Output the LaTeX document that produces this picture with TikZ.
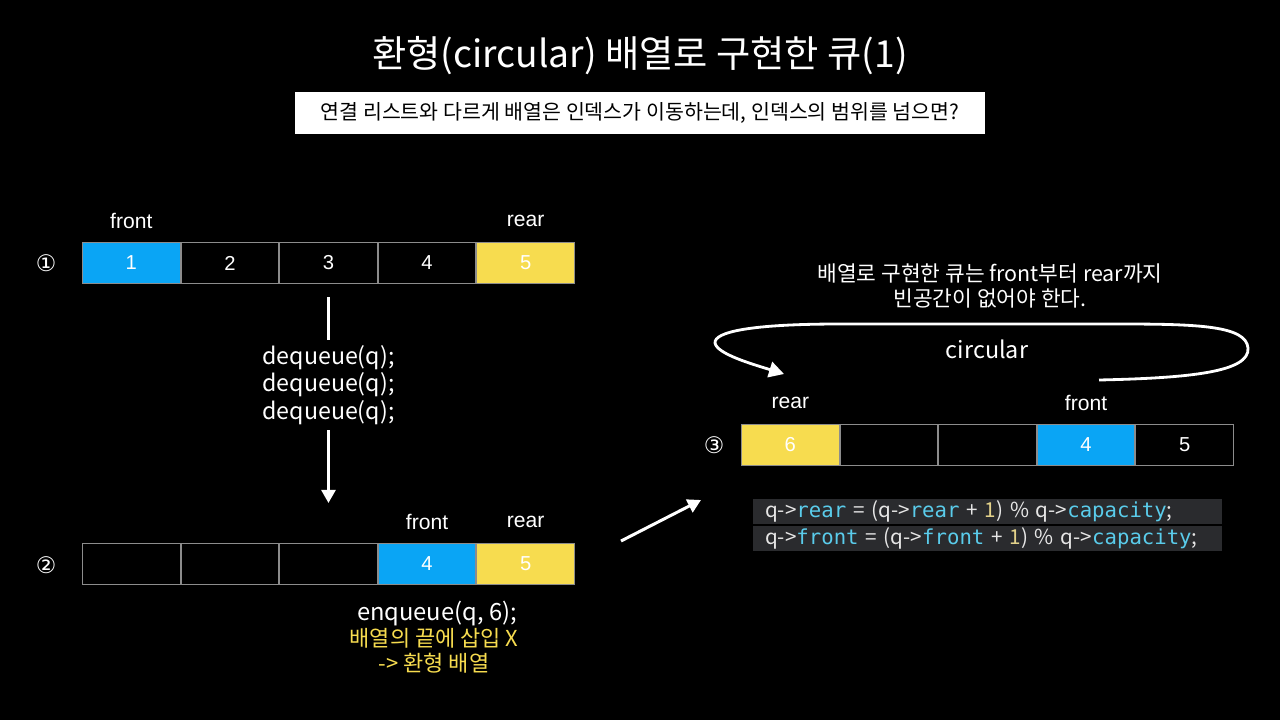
\documentclass[tikz,border=0pt]{standalone}
\usepackage{fontspec}
\setmainfont{Noto Sans CJK KR}
\newfontfamily\numfont{Liberation Sans}
\newfontfamily\codefont{DejaVu Sans Mono}
\newfontfamily\circfont{DejaVu Sans}
\usetikzlibrary{arrows.meta, positioning}
\usepackage{xcolor}
\definecolor{qblue}{HTML}{0AA5F5}
\definecolor{qyellow}{HTML}{F7DC4F}
\definecolor{cellline}{HTML}{8C8C8C}
\definecolor{codebg}{HTML}{2A2B2E}
\definecolor{codetext}{HTML}{E6E6E6}
\definecolor{codecyan}{HTML}{5ACCEB}
\definecolor{codenum}{HTML}{E3D28A}

\newcommand{\kw}[1]{{\codefont\color{codecyan}#1}}
\newcommand{\nm}[1]{{\color{codenum}#1}}

\begin{document}
\begin{tikzpicture}[
    x=0.02cm, y=-0.02cm,
    cell/.style={rectangle, draw=cellline, line width=0.6pt, fill=black,
                 minimum width=1.951cm, minimum height=0.82cm, inner sep=0pt,
                 text=white, font=\numfont\fontsize{11.5}{13}\selectfont},
    lbl/.style={text=white, font=\numfont\fontsize{12}{14}\selectfont, inner sep=0pt},
    stepno/.style={text=white, font=\circfont\fontsize{13}{15}\selectfont, inner sep=0pt},
    body/.style={text=white, font=\fontsize{13.2}{15.7}\selectfont, align=center, inner sep=0pt},
    note/.style={text=qyellow, font=\fontsize{12.5}{14}\selectfont, align=center, inner sep=0pt},
    codeline/.style={rectangle, fill=codebg, minimum width=9.38cm, minimum height=0.5cm,
                     text width=8.9cm, align=left, inner xsep=0.24cm, inner ysep=0pt,
                     text=codetext, font=\fontsize{11.75}{12}\selectfont},
    arr/.style={-{Triangle[length=7.5pt, width=8pt]}, line width=1.7pt, white},
  ]
    \fill[black] (0,0) rectangle (1280,720);
    \useasboundingbox (0,0) rectangle (1280,720);

    % title and question
    \node[text=white, font=\fontsize{21.2}{26}\selectfont] (title) at (640,56)
      {환형(circular) 배열로 구현한 큐(1)};
    \node[rectangle, fill=white, minimum width=13.8cm, minimum height=0.84cm,
          font=\fontsize{11.7}{14}\selectfont] (question) at (640,113)
      {연결 리스트와 다르게 배열은 인덱스가 이동하는데, 인덱스의 범위를 넘으면?};

    % step 1
    \node[stepno] (s1) at (46,263) {①};
    \node[cell, fill=qblue] (a1) at (131.3,263) {1};
    \foreach \i/\p in {2/1, 3/2, 4/3}
      \node[cell, right=0pt of a\p] (a\i) {\i};
    \node[cell, fill=qyellow, right=0pt of a4] (a5) {5};
    \node[lbl] (a1lbl) at ([yshift=0.43cm]a1.north) {front};
    \node[lbl] (a5lbl) at ([yshift=0.43cm]a5.north) {rear};

    % dequeue
    \node[body, below=1.64cm of a3.center] (dq) {dequeue(q);\\dequeue(q);\\dequeue(q);};

    % step 2
    \node[stepno] (s2) at (46,565) {②};
    \node[cell] (b1) at (131.3,564) {};
    \foreach \i/\p in {2/1, 3/2}
      \node[cell, right=0pt of b\p] (b\i) {};
    \node[cell, fill=qblue, right=0pt of b3] (b4) {4};
    \node[cell, fill=qyellow, right=0pt of b4] (b5) {5};
    \node[lbl] (b4lbl) at ([yshift=0.43cm]b4.north) {front};
    \node[lbl] (b5lbl) at ([yshift=0.43cm]b5.north) {rear};

    \draw[line width=1.7pt, white] ([yshift=-0.26cm]a3.south) -- ([yshift=0.1cm]dq.north);
    \draw[arr] ([yshift=-0.1cm]dq.south) -- ([yshift=0.8cm]b3.north);

    \node[body, font=\fontsize{13.5}{16}\selectfont] (enq) at (437,614) {enqueue(q, 6);};
    \node[note] (enqnote) at (434,651) {배열의 끝에 삽입 X\\-> 환형 배열};

    % to step 3
    \coordinate (go1) at (621,541);
    \coordinate (go2) at (701,500);
    \draw[arr] (go1) -- (go2);

    % step 3
    \node[text=white, font=\fontsize{12.2}{14}\selectfont, align=center] (rule) at (990,286)
      {배열로 구현한 큐는 front부터 rear까지\\빈공간이 없어야 한다.};
    \node[stepno] (s3) at (714,445) {③};
    \node[cell, fill=qyellow] (c1) at (790.3,445) {6};
    \foreach \i/\p in {2/1, 3/2}
      \node[cell, right=0pt of c\p] (c\i) {};
    \node[cell, fill=qblue, right=0pt of c3] (c4) {4};
    \node[cell, right=0pt of c4] (c5) {5};
    \node[lbl] (c1lbl) at ([yshift=0.43cm]c1.north) {rear};
    \node[lbl] (c4lbl) at ([yshift=0.43cm]c4.north) {front};

    \node[text=white, font=\fontsize{13.3}{15}\selectfont] (circ) at (987,349) {circular};
    \coordinate (loopstart) at (1099,380);
    \coordinate (looptip) at (784,374);
    \draw[-{Triangle[length=8.5pt, width=9pt]}, line width=1.6pt, white]
      (loopstart) .. controls (1190,378) and (1250,372) .. (1248,348)
      .. controls (1246,326) and (1200,324) .. (1120,324)
      -- (840,324) .. controls (750,324) and (714,332) .. (715,343)
      .. controls (717,354) and (752,364) .. (looptip);

    % code
    \node[codeline] (code1) at (987.5,511)
      {q->\kw{rear} = (q->\kw{rear} + \nm{1}) \% q->\kw{capacity};};
    \node[codeline, below=1pt of code1] (code2)
      {q->\kw{front} = (q->\kw{front} + \nm{1}) \% q->\kw{capacity};};
\end{tikzpicture}
\end{document}
